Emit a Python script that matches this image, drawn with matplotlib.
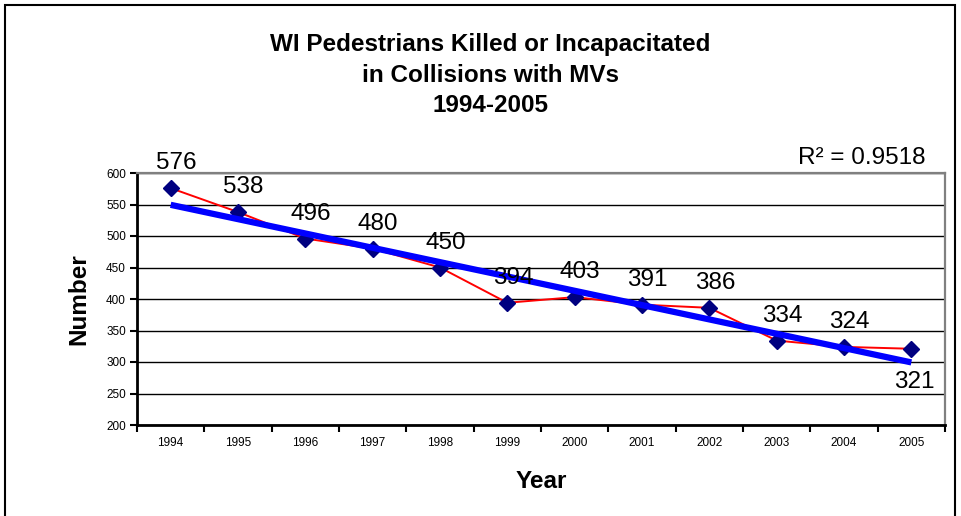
import numpy as np
import matplotlib
matplotlib.use("Agg")
import matplotlib.pyplot as plt
from matplotlib.patches import Rectangle
from matplotlib.ticker import FixedLocator

plt.rcParams['font.family'] = ['Liberation Sans', 'DejaVu Sans']

# Chart data
years = ['1994', '1995', '1996', '1997', '1998', '1999',
         '2000', '2001', '2002', '2003', '2004', '2005']
counts = [576, 538, 496, 480, 450, 394, 403, 391, 386, 334, 324, 321]
r2_text = 'R\u00b2 = 0.9518'
title_lines = ['WI Pedestrians Killed or Incapacitated',
               'in Collisions with MVs',
               '1994-2005']

W, H = 961, 516
fig = plt.figure(figsize=(W / 100, H / 100), dpi=100)

# axes placed in pixel terms: left 137, right 945, top 173, bottom 425
ax = fig.add_axes([137 / W, 1 - 425 / H, (945 - 137) / W, (425 - 173) / H])

x = np.arange(len(years))

# linear trendline through the data
slope, intercept = np.polyfit(x, counts, 1)
trend = slope * x + intercept

ax.plot(x, counts, color='#ff0000', lw=1.4, zorder=3)
ax.plot(x, counts, ls='none', marker='D', ms=8.5, color='#000080', zorder=4)
ax.plot([x[0], x[-1]], [trend[0], trend[-1]], color='#0000ff', lw=4.5, zorder=5,
        solid_capstyle='butt')

# data labels
for i, v in enumerate(counts):
    if i == len(counts) - 1:
        off = (2, -16)
        va = 'top'
    else:
        off = (4, 10)
        va = 'bottom'
    ax.annotate(str(v), (x[i], v), xytext=off, textcoords='offset points',
                ha='center', va=va, fontsize=17.5, color='black', zorder=6,
                annotation_clip=False)

ax.set_xlim(-0.5, len(years) - 0.5)
ax.set_ylim(200, 600)
ax.set_yticks(np.arange(200, 601, 50))
ax.yaxis.grid(True, color='black', lw=1)
ax.set_axisbelow(True)

# category axis: ticks between categories, labels centred
ax.xaxis.set_major_locator(FixedLocator(np.arange(-0.5, len(years), 1.0)))
ax.xaxis.set_minor_locator(FixedLocator(x))
ax.set_xticklabels([], minor=False)
ax.set_xticklabels(years, minor=True)
ax.tick_params(axis='x', which='major', length=5, width=1.5, direction='out')
ax.tick_params(axis='x', which='minor', length=0, pad=9, labelsize=8.5)
ax.tick_params(axis='y', length=5, width=1.5, direction='out', pad=3, labelsize=8.5)

for s in ['left', 'bottom']:
    ax.spines[s].set_color('black')
    ax.spines[s].set_linewidth(2)
for s in ['top', 'right']:
    ax.spines[s].set_color('#808080')
    ax.spines[s].set_linewidth(1.6)

# title and axis titles
for k, line in enumerate(title_lines):
    fig.text(490 / W, 1 - (44 + 31 * k) / H, line, ha='center', va='center',
             fontsize=17.5, fontweight='bold')
fig.text(541 / W, 1 - 481 / H, 'Year', ha='center', va='center',
         fontsize=17.5, fontweight='bold')
fig.text(79 / W, 1 - 299 / H, 'Number', ha='center', va='center',
         rotation=90, fontsize=17.5, fontweight='bold')
fig.text(925 / W, 1 - 158 / H, r2_text, ha='right', va='center', fontsize=17.5)

# outer chart frame
fig.patches.append(Rectangle((5 / W, -0.1), 950 / W, 1.1 - 5 / H,
                             transform=fig.transFigure, fill=False,
                             edgecolor='black', lw=1.5))

fig.savefig('out.png', dpi=100)
